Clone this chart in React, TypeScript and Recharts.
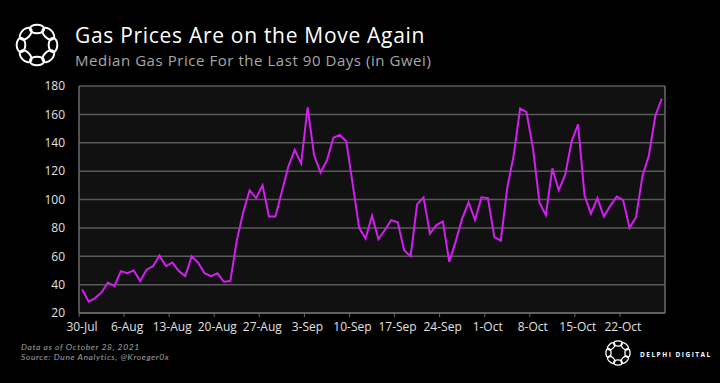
import { LineChart, Line, XAxis, YAxis, CartesianGrid, ReferenceLine } from "recharts";

// median gas price (gwei), one per day from 30-Jul-2021 to 28-Oct-2021
const gasPrices = [
  36.5, 28, 30.5, 34.5, 41.5, 39, 49.5, 48, 50, 42.5,
  50.5, 53, 60.5, 53, 55.5, 49.5, 46, 60, 55.5, 48,
  46, 48, 42, 42.5, 71, 91, 106.5, 101, 110, 88,
  88, 105.5, 123, 135, 125.5, 165, 131.5, 119, 127.5, 143.5,
  145.5, 141, 111, 80, 72.5, 88.5, 72, 78.5, 85.5, 84,
  64, 60, 96.5, 101.5, 76, 82, 84.5, 56, 70.5, 86.5,
  98, 85.5, 101.5, 101, 73.5, 71, 108, 131, 164, 161.5,
  136, 98, 89, 122, 106.5, 117.5, 141, 153, 103, 90,
  101, 88, 95.5, 102, 99.5, 80, 87.5, 116.5, 131, 159,
  171,
];

const tickLabels = [
  "30-Jul", "6-Aug", "13-Aug", "20-Aug", "27-Aug", "3-Sep", "10-Sep",
  "17-Sep", "24-Sep", "1-Oct", "8-Oct", "15-Oct", "22-Oct",
];
const yTicks = [20, 40, 60, 80, 100, 120, 140, 160, 180];

const data = gasPrices.map((v, i) => ({ day: i + 0.5, price: v }));
const xTicks = tickLabels.map((_, i) => i * 7);

const FONT = "'Open Sans', 'Noto Sans', sans-serif";

function Logo({ cx, cy, r, sw }: { cx: number; cy: number; r: number; sw: number }) {
  const loops = Array.from({ length: 8 }, (_, i) => i * 45);
  return (
    <g>
      {loops.map((a) => {
        const rad = (a * Math.PI) / 180;
        const x = cx + r * Math.cos(rad);
        const y = cy + r * Math.sin(rad);
        return (
          <ellipse
            key={a}
            cx={x}
            cy={y}
            rx={r * 0.45}
            ry={r * 0.27}
            transform={`rotate(${a + 90} ${x} ${y})`}
            fill="none"
            stroke="#fff"
            strokeWidth={sw}
          />
        );
      })}
    </g>
  );
}

function XTick(props: any) {
  const { x, y, payload } = props;
  const idx = xTicks.indexOf(payload.value);
  return (
    <text x={x + 3} y={y + 12} textAnchor="middle" fill="#e0e0e0" fontSize={12} fontFamily={FONT}>
      {tickLabels[idx]}
    </text>
  );
}

export default function App() {
  return (
    <div style={{ position: "absolute", left: 0, top: 0, width: 720, height: 383, background: "#000", overflow: "hidden" }}>
      <svg width={720} height={383} style={{ position: "absolute", left: 0, top: 0 }}>
        <Logo cx={37} cy={45} r={16} sw={2} />
        <text x={75} y={43} fill="#fff" fontSize={21} letterSpacing={0.7} fontFamily={FONT}>
          Gas Prices Are on the Move Again
        </text>
        <text x={75} y={65.5} fill="#a8a8a8" fontSize={15} letterSpacing={0.55} fontFamily={FONT}>
          Median Gas Price For the Last 90 Days (in Gwei)
        </text>
        <text x={21} y={349.5} fill="#a0a0a0" fontSize={8.5} letterSpacing={0.6} fontStyle="italic" fontFamily="Lato, sans-serif">
          Data as of October 28, 2021
        </text>
        <text x={21} y={360} fill="#a0a0a0" fontSize={8.5} letterSpacing={0.6} fontStyle="italic" fontFamily="Lato, sans-serif">
          Source: Dune Analytics, @Kroeger0x
        </text>
        <Logo cx={618} cy={353} r={9.5} sw={1.3} />
        <text x={640} y={356.5} fill="#fff" fontSize={6.5} fontWeight={700} letterSpacing={1.5} fontFamily={FONT}>
          DELPHI DIGITAL
        </text>
      </svg>
      <div style={{ position: "absolute", left: 0, top: 0 }}>
        <LineChart width={720} height={383} data={data} margin={{ top: 86, right: 55, bottom: 40, left: 19 }}>
          <CartesianGrid vertical={false} stroke="#5a5a5a" strokeWidth={1.5} fill="#111111" />
          <XAxis
            dataKey="day"
            type="number"
            domain={[0, 91]}
            ticks={xTicks}
            tick={<XTick />}
            axisLine={{ stroke: "#6a6a6a", strokeWidth: 1.5 }}
            tickLine={{ stroke: "#6a6a6a" }}
            tickSize={4}
            height={30}
            interval={0}
          />
          <YAxis
            domain={[20, 180]}
            ticks={yTicks}
            width={60}
            axisLine={{ stroke: "#6a6a6a", strokeWidth: 1.5 }}
            tickLine={false}
            tick={{ fill: "#e0e0e0", fontSize: 12, fontFamily: FONT }}
            tickMargin={8}
          />
          <ReferenceLine x={91} stroke="#6a6a6a" strokeWidth={1.5} />
          <Line
            type="linear"
            dataKey="price"
            stroke="#d11ff0"
            strokeWidth={2}
            dot={false}
            isAnimationActive={false}
          />
        </LineChart>
      </div>
    </div>
  );
}
